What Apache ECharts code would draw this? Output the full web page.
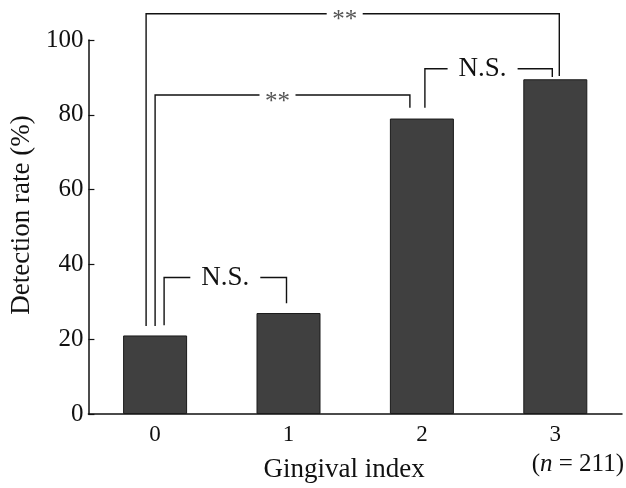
<meta charset="utf-8">
<script src="https://cdn.jsdelivr.net/npm/echarts@6/dist/echarts.min.js"></script>
<div id="main" style="position:absolute;left:0;top:0;width:626px;height:488px;"></div>

<script type="text/javascript">
// gingival index categories and detection rate (%)
const categories = ['0', '1', '2', '3']
const rates = [21, 27, 79, 89.5]
const yTicks = [0, 20, 40, 60, 80, 100]

// significance brackets: from/to category, bracket height, leg ends (all in %)
const sigFrom = [0, 0, 0, 2]
const sigTo = [3, 2, 1, 3]
const sigLevel = [107, 85.3, 36.5, 92.3]
const sigLeftEnd = [23.5, 23.5, 23.7, 81.9]
const sigRightEnd = [90.4, 81.9, 29.6, 90.1]
const sigLabel = ['**', '**', 'N.S.', 'N.S.']

// small pixel nudges so the legs don't overlap (style only)
const legLeftShift = [-9, 0, 9, 3]
const legRightShift = [4, -12, -2, -3]
const labelShift = [-8, -5, 0, -6]

const serif = '"Liberation Serif", "DejaVu Serif", serif'
let myChart = echarts.init(main)

const brackets = sigFrom.map((f, i) => [f, sigTo[i], sigLevel[i], sigLeftEnd[i], sigRightEnd[i]])

myChart.setOption({
  backgroundColor: '#fff',
  animation: false,
  grid: {left: 87, right: 4, top: 40, bottom: 72},
  xAxis: {
    type: 'category',
    data: categories,
    name: 'Gingival index',
    nameLocation: 'middle',
    nameGap: 42,
    nameTextStyle: {fontFamily: serif, fontSize: 27, color: '#111', padding: [0, 22, 0, 0]},
    axisLine: {lineStyle: {color: '#111', width: 1.5}},
    axisTick: {inside: true, length: 6, lineStyle: {color: '#111', width: 1.2}},
    axisLabel: {fontFamily: serif, fontSize: 23, color: '#111', margin: 9},
  },
  yAxis: {
    type: 'value',
    min: 0, max: 100, interval: 20,
    name: 'Detection rate (%)',
    nameLocation: 'middle',
    nameGap: 50,
    nameTextStyle: {fontFamily: serif, fontSize: 27, color: '#111', padding: [0, 0, 0, 24]},
    axisLine: {show: true, lineStyle: {color: '#111', width: 1.5}},
    axisTick: {show: true, inside: true, length: 6, lineStyle: {color: '#111', width: 1.2}},
    axisLabel: {fontFamily: serif, fontSize: 25, color: '#111', margin: 5,
      formatter: v => yTicks.includes(v) ? String(v) : ''},
    splitLine: {show: false},
  },
  graphic: [{
    type: 'text', right: 2, top: 452,
    style: {
      text: '({i|n} = 211)',
      font: '25px ' + serif, fill: '#111',
      rich: {i: {fontStyle: 'italic', fontFamily: serif, fontSize: 25, fill: '#111'}},
    },
  }],
  series: [{
    type: 'bar',
    data: rates,
    barWidth: 64,
    itemStyle: {color: '#404040', borderColor: '#1a1a1a', borderWidth: 1},
  }, {
    type: 'custom',
    clip: false,
    z: 5,
    encode: {x: [0, 1], y: [2, 3, 4]},
    data: brackets,
    renderItem: (params, api) => {
      const i = params.dataIndex
      const xl = api.coord([api.value(0), 0])[0] + legLeftShift[i]
      const xr = api.coord([api.value(1), 0])[0] + legRightShift[i]
      const yl = api.coord([0, api.value(2)])[1]
      const yLeft = api.coord([0, api.value(3)])[1]
      const yRight = api.coord([0, api.value(4)])[1]
      const star = sigLabel[i] === '**'
      const xm = (xl + xr) / 2 + labelShift[i]
      const gap = star ? 18 : 35
      const line = {stroke: '#111', lineWidth: 1.4, fill: null}
      return {
        type: 'group',
        children: [
          {type: 'polyline', shape: {points: [[xl, yLeft], [xl, yl], [xm - gap, yl]]}, style: line},
          {type: 'polyline', shape: {points: [[xm + gap, yl], [xr, yl], [xr, yRight]]}, style: line},
          {type: 'text', x: xm, y: yl + (star ? 7 : 0),
            style: {text: sigLabel[i], align: 'center', verticalAlign: 'middle',
              font: (star ? '25px ' : '27px ') + serif, fill: star ? '#555' : '#111'}},
        ],
      }
    },
  }],
})
</script>
